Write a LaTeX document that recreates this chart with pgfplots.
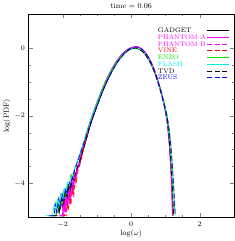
\documentclass[border=0pt]{standalone}
\usepackage{pgfplots}
\pgfplotsset{compat=1.18}
\definecolor{pgreen}{RGB}{0,235,0}
\definecolor{pcyan}{RGB}{0,240,240}
\definecolor{pmag}{RGB}{255,0,255}
\begin{document}
\begin{tikzpicture}
\begin{axis}[
  scale only axis, width=204bp, height=202bp,
  xmin=-3, xmax=3, ymin=-5, ymax=1,
  xtick={-2,0,2}, ytick={-4,-2,0},
  minor tick num=3,
  tick align=inside, major tick length=4bp, minor tick length=2bp,
  xtick pos=both, ytick pos=both,
  tick label style={font=\fontsize{7}{8}\selectfont},
  xticklabel style={yshift=-1bp},
  xlabel={log($\omega$)}, ylabel={log(PDF)},
  label style={font=\fontsize{7.5}{8}\selectfont},
  xlabel style={yshift=4bp},
  ylabel style={yshift=-3bp},
  title={time = 0.06},
  title style={font=\fontsize{7.5}{8}\selectfont, yshift=-4bp},
  axis line style={line width=0.6pt},
  every axis plot/.append style={line width=0.7pt},
  legend plot pos=right,
  legend cell align=left,
  legend style={draw=none, fill=none, at={(0.997,0.945)}, anchor=north east,
    font=\fontsize{6.6}{6.6}\selectfont, row sep=0.3pt,
    nodes={text height=4.7pt, text depth=0.5pt, inner sep=0.6pt}},
  legend image code/.code={\draw[#1] (1bp,0bp) -- (23bp,0bp);},
]
% GADGET
\addplot[black] coordinates {(-2.35,-4.95)(-2.2,-4.95)(-2.15,-4.6)(-2.1,-4.85)(-2.05,-4.4)(-2.0,-4.7)(-1.95,-4.3)(-1.9,-4.5)(-1.85,-4.1)(-1.8,-4.3)(-1.75,-3.9)(-1.7,-4.05)(-1.65,-3.7)(-1.6,-3.75)(-1.55,-3.45)(-1.5,-3.4)(-1.4,-3.0)(-1.3,-2.65)(-1.2,-2.3)(-1.1,-2.0)(-1.0,-1.72)(-0.9,-1.45)(-0.8,-1.2)(-0.7,-0.97)(-0.6,-0.77)(-0.5,-0.58)(-0.4,-0.42)(-0.3,-0.28)(-0.2,-0.17)(-0.1,-0.08)(0.0,-0.03)(0.1,0.0)(0.2,-0.02)(0.3,-0.08)(0.4,-0.18)(0.5,-0.33)(0.6,-0.52)(0.7,-0.77)(0.8,-1.07)(0.9,-1.42)(1.0,-1.85)(1.05,-2.15)(1.1,-2.6)(1.15,-3.3)(1.2,-4.1)(1.23,-4.95)};
\addlegendentry{\textcolor{black}{GADGET}}
% PHANTOM A
\addplot[pmag, line width=1.4pt] coordinates {(-2.1,-4.95)(-2.0,-4.95)(-1.97,-4.5)(-1.93,-4.85)(-1.9,-4.3)(-1.86,-4.7)(-1.82,-4.1)(-1.78,-4.5)(-1.74,-3.9)(-1.7,-4.2)(-1.66,-3.7)(-1.62,-3.85)(-1.58,-3.5)(-1.54,-3.5)(-1.45,-3.05)(-1.35,-2.7)(-1.25,-2.35)(-1.15,-2.05)(-1.05,-1.76)(-0.95,-1.5)(-0.85,-1.24)(-0.75,-1.0)(-0.65,-0.79)(-0.55,-0.6)(-0.45,-0.43)(-0.35,-0.29)(-0.25,-0.17)(-0.15,-0.08)(-0.05,-0.02)(0.05,0.02)(0.15,0.03)(0.25,0.0)(0.35,-0.08)(0.45,-0.2)(0.55,-0.37)(0.65,-0.6)(0.75,-0.88)(0.85,-1.22)(0.95,-1.6)(1.02,-1.95)(1.07,-2.3)(1.12,-2.85)(1.16,-3.5)(1.19,-4.2)(1.21,-4.95)};
\addlegendentry{\textcolor{pmag}{PHANTOM A}}
% PHANTOM B
\addplot[pmag, dash pattern=on 5bp off 2.5bp] coordinates {(-2.05,-4.95)(-1.95,-4.95)(-1.92,-4.55)(-1.88,-4.8)(-1.84,-4.25)(-1.8,-4.6)(-1.76,-4.0)(-1.72,-4.35)(-1.68,-3.8)(-1.64,-4.0)(-1.6,-3.6)(-1.55,-3.55)(-1.45,-3.1)(-1.35,-2.72)(-1.25,-2.36)(-1.15,-2.05)(-1.05,-1.76)(-0.95,-1.5)(-0.85,-1.24)(-0.75,-1.0)(-0.65,-0.79)(-0.55,-0.6)(-0.45,-0.43)(-0.35,-0.29)(-0.25,-0.17)(-0.15,-0.08)(-0.05,-0.02)(0.05,0.02)(0.15,0.04)(0.25,0.01)(0.35,-0.07)(0.45,-0.19)(0.55,-0.36)(0.65,-0.59)(0.75,-0.87)(0.85,-1.21)(0.95,-1.6)(1.02,-1.95)(1.07,-2.32)(1.12,-2.9)(1.16,-3.55)(1.19,-4.25)(1.21,-4.95)};
\addlegendentry{\textcolor{pmag}{PHANTOM B}}
% VINE
\addplot[red, dash pattern=on 5bp off 2.5bp] coordinates {(-2.0,-4.95)(-1.9,-4.95)(-1.87,-4.6)(-1.83,-4.8)(-1.8,-4.3)(-1.76,-4.65)(-1.72,-4.05)(-1.68,-4.4)(-1.64,-3.85)(-1.6,-3.95)(-1.55,-3.6)(-1.5,-3.45)(-1.42,-3.1)(-1.32,-2.72)(-1.22,-2.36)(-1.12,-2.04)(-1.02,-1.75)(-0.92,-1.48)(-0.82,-1.22)(-0.72,-0.99)(-0.62,-0.78)(-0.52,-0.59)(-0.42,-0.42)(-0.32,-0.28)(-0.22,-0.16)(-0.12,-0.07)(-0.02,-0.02)(0.08,0.01)(0.18,0.02)(0.28,-0.02)(0.38,-0.1)(0.48,-0.23)(0.58,-0.41)(0.68,-0.65)(0.78,-0.95)(0.88,-1.3)(0.97,-1.7)(1.03,-2.02)(1.08,-2.4)(1.13,-2.98)(1.17,-3.65)(1.2,-4.35)(1.22,-4.95)};
\addlegendentry{\textcolor{red}{VINE}}
% ENZO
\addplot[pgreen] coordinates {(-2.3,-4.95)(-2.2,-4.95)(-2.17,-4.55)(-2.12,-4.8)(-2.07,-4.35)(-2.02,-4.6)(-1.97,-4.2)(-1.92,-4.4)(-1.87,-4.0)(-1.82,-4.15)(-1.77,-3.75)(-1.72,-3.85)(-1.65,-3.55)(-1.55,-3.3)(-1.45,-2.98)(-1.35,-2.65)(-1.25,-2.32)(-1.15,-2.02)(-1.05,-1.74)(-0.95,-1.47)(-0.85,-1.22)(-0.75,-0.99)(-0.65,-0.78)(-0.55,-0.6)(-0.45,-0.44)(-0.35,-0.3)(-0.25,-0.18)(-0.15,-0.1)(-0.05,-0.05)(0.05,-0.02)(0.15,-0.02)(0.25,-0.05)(0.35,-0.13)(0.45,-0.25)(0.55,-0.42)(0.65,-0.63)(0.75,-0.9)(0.85,-1.2)(0.95,-1.55)(1.05,-1.98)(1.12,-2.45)(1.18,-3.1)(1.22,-3.8)(1.25,-4.4)(1.28,-4.95)};
\addlegendentry{\textcolor{pgreen}{ENZO}}
% FLASH
\addplot[pcyan] coordinates {(-2.5,-4.95)(-2.3,-4.95)(-2.25,-4.6)(-2.2,-4.8)(-2.15,-4.5)(-2.1,-4.65)(-2.05,-4.3)(-2.0,-4.45)(-1.95,-4.15)(-1.9,-4.25)(-1.85,-3.95)(-1.8,-4.0)(-1.7,-3.7)(-1.6,-3.42)(-1.5,-3.12)(-1.4,-2.82)(-1.3,-2.5)(-1.2,-2.2)(-1.1,-1.93)(-1.0,-1.67)(-0.9,-1.42)(-0.8,-1.18)(-0.7,-0.96)(-0.6,-0.76)(-0.5,-0.57)(-0.4,-0.41)(-0.3,-0.27)(-0.2,-0.16)(-0.1,-0.07)(0.0,-0.02)(0.1,0.01)(0.2,-0.01)(0.3,-0.07)(0.4,-0.17)(0.5,-0.32)(0.6,-0.51)(0.7,-0.76)(0.8,-1.06)(0.9,-1.41)(1.0,-1.83)(1.05,-2.12)(1.1,-2.55)(1.15,-3.2)(1.2,-4.0)(1.24,-4.95)};
\addlegendentry{\textcolor{pcyan}{FLASH}}
% TVD
\addplot[black, dash pattern=on 5bp off 2.5bp] coordinates {(-2.3,-4.95)(-2.15,-4.95)(-2.12,-4.65)(-2.07,-4.8)(-2.02,-4.45)(-1.97,-4.6)(-1.92,-4.25)(-1.87,-4.4)(-1.82,-4.05)(-1.77,-4.2)(-1.72,-3.85)(-1.67,-3.9)(-1.6,-3.6)(-1.5,-3.32)(-1.4,-3.0)(-1.3,-2.65)(-1.2,-2.3)(-1.1,-2.0)(-1.0,-1.72)(-0.9,-1.45)(-0.8,-1.2)(-0.7,-0.97)(-0.6,-0.77)(-0.5,-0.58)(-0.4,-0.42)(-0.3,-0.28)(-0.2,-0.17)(-0.1,-0.08)(0.0,-0.03)(0.1,0.0)(0.2,-0.02)(0.3,-0.08)(0.4,-0.18)(0.5,-0.33)(0.6,-0.52)(0.7,-0.77)(0.8,-1.07)(0.9,-1.42)(1.0,-1.84)(1.05,-2.13)(1.1,-2.57)(1.15,-3.25)(1.2,-4.05)(1.24,-4.95)};
\addlegendentry{\textcolor{black}{TVD}}
% ZEUS
\addplot[blue, dash pattern=on 5bp off 2.5bp] coordinates {(-2.4,-4.95)(-2.25,-4.95)(-2.22,-4.6)(-2.17,-4.85)(-2.12,-4.45)(-2.07,-4.7)(-2.02,-4.3)(-1.97,-4.5)(-1.92,-4.15)(-1.87,-4.3)(-1.82,-3.95)(-1.77,-4.05)(-1.7,-3.75)(-1.6,-3.45)(-1.5,-3.15)(-1.4,-2.85)(-1.3,-2.55)(-1.2,-2.25)(-1.1,-1.97)(-1.0,-1.7)(-0.9,-1.44)(-0.8,-1.19)(-0.7,-0.96)(-0.6,-0.76)(-0.5,-0.57)(-0.4,-0.41)(-0.3,-0.27)(-0.2,-0.15)(-0.1,-0.06)(0.0,0.0)(0.1,0.03)(0.2,0.03)(0.3,-0.02)(0.4,-0.12)(0.5,-0.27)(0.6,-0.47)(0.7,-0.73)(0.8,-1.04)(0.9,-1.4)(1.0,-1.8)(1.08,-2.2)(1.15,-2.8)(1.2,-3.45)(1.25,-4.2)(1.29,-4.95)};
\addlegendentry{\textcolor{blue}{ZEUS}}
\end{axis}
\end{tikzpicture}
\end{document}
